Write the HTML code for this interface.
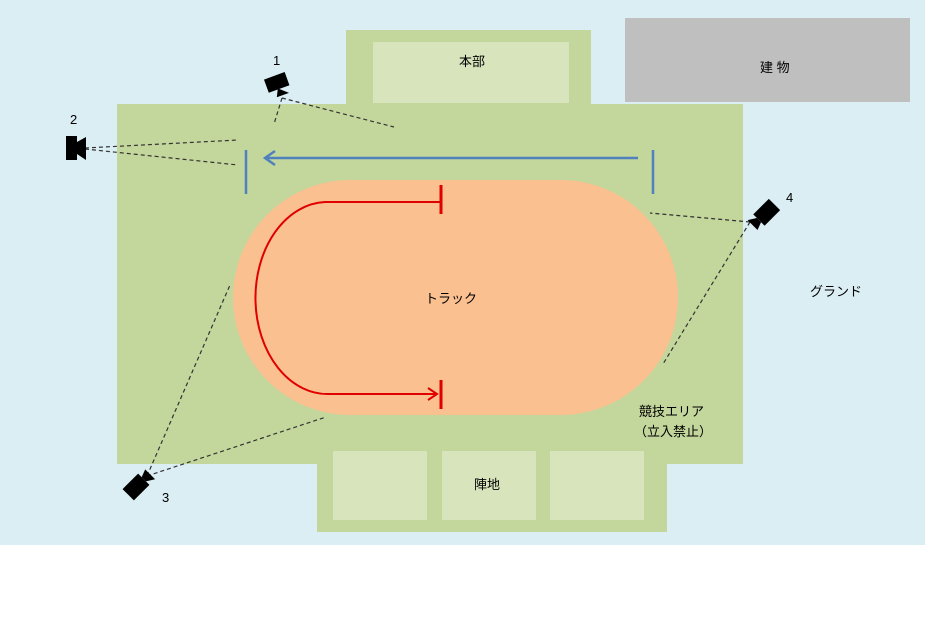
<!DOCTYPE html>
<html><head><meta charset="utf-8"><style>
body{margin:0;width:925px;height:614px;background:#fff;overflow:hidden}
svg text{font-family:"Liberation Sans","Noto Sans CJK JP",sans-serif;font-size:13px;fill:#000}
</style></head><body>
<svg width="925" height="614" xmlns="http://www.w3.org/2000/svg">
<rect x="0" y="0" width="925" height="545" fill="#dbeef4"/>
<rect x="625" y="18" width="285" height="84" fill="#bfbfbf"/>
<text x="760" y="72">建 物</text>
<rect x="346" y="30" width="245" height="80" fill="#c3d69b"/>
<rect x="373" y="42" width="196" height="61" fill="#d7e4bc"/>
<text x="459" y="66">本部</text>
<rect x="117" y="104" width="626" height="360" fill="#c3d69b"/>
<rect x="317" y="450" width="350" height="82" fill="#c3d69b"/>
<rect x="333" y="451" width="94" height="69" fill="#d7e4bc"/>
<rect x="442" y="451" width="94" height="69" fill="#d7e4bc"/>
<rect x="550" y="451" width="94" height="69" fill="#d7e4bc"/>
<text x="474" y="489">陣地</text>
<rect x="233" y="180" width="445" height="235" rx="117.5" fill="#fac090"/>
<text x="425" y="303">トラック</text>
<text x="639" y="416">競技エリア</text>
<text x="634" y="436">（立入禁止）</text>
<text x="810" y="296">グランド</text>
<g stroke="#4f81bd" stroke-width="2.5" fill="none">
<line x1="246" y1="150" x2="246" y2="194"/>
<line x1="653" y1="150" x2="653" y2="194"/>
<line x1="638" y1="158" x2="265" y2="158"/>
<polyline points="275,151 265,158 275,165"/>
</g>
<g stroke="#e00000" stroke-width="2" fill="none">
<path d="M440,202 L325,202 A72,96 0 0 0 330,394 L437,394"/>
<polyline points="428,388 437,394 428,400"/>
<line x1="441" y1="185" x2="441" y2="214" stroke-width="3"/>
<line x1="441" y1="380" x2="441" y2="409" stroke-width="3"/>
</g>
<g stroke="#333" stroke-width="1.2" stroke-dasharray="4,3" fill="none">
<line x1="282" y1="98" x2="274" y2="124"/>
<line x1="282" y1="98" x2="394" y2="127"/>
<line x1="85" y1="148" x2="238" y2="140"/>
<line x1="85" y1="149" x2="238" y2="165"/>
<line x1="147" y1="476" x2="230" y2="285"/>
<line x1="147" y1="476" x2="326" y2="417"/>
<line x1="750" y1="222" x2="650" y2="213"/>
<line x1="750" y1="222" x2="663" y2="364"/>
</g>
<g fill="#000">
<g transform="translate(278,83) rotate(-20)"><rect x="-12" y="-8" width="22" height="14"/><polygon points="-2,5 7,13 -6,13"/></g>
<g transform="translate(76,148)"><rect x="-10" y="-12" width="11" height="24"/><polygon points="1,-6 10,-11 10,12 1,6"/></g>
<g transform="translate(136,487) rotate(135)"><rect x="-11" y="-8" width="22" height="16"/><polygon points="-11,-3 -19,-8 -19,6 -11,3"/></g>
<g transform="translate(766,213) rotate(-45)"><rect x="-10" y="-8" width="22" height="16"/><polygon points="-10,-3 -18,-8 -18,6 -10,3"/></g>
</g>
<text x="273" y="65">1</text>
<text x="70" y="124">2</text>
<text x="162" y="502">3</text>
<text x="786" y="202">4</text>
</svg>
</body></html>
